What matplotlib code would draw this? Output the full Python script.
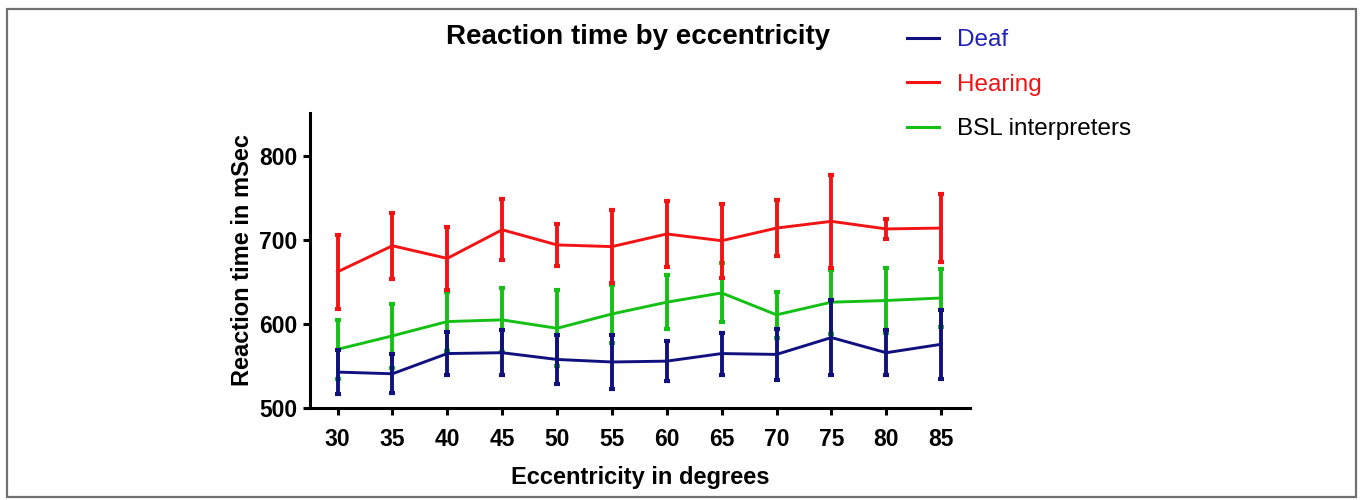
import matplotlib
matplotlib.use("Agg")
import matplotlib.pyplot as plt
from matplotlib.patches import Rectangle
from matplotlib.lines import Line2D

plt.rcParams['font.family'] = ['Liberation Sans', 'DejaVu Sans']

# Eccentricity (degrees)
eccentricity = [30, 35, 40, 45, 50, 55, 60, 65, 70, 75, 80, 85]

# Mean reaction times (ms) and error bar half-widths
deaf_mean = [543, 541, 565, 566, 558, 555, 556, 565, 564, 584, 566, 576]
deaf_err = [26, 23, 26, 27, 29, 32, 24, 25, 30, 45, 27, 41]

hearing_mean = [662, 693, 678, 712, 694, 692, 707, 699, 714, 722, 713, 714]
hearing_err = [44, 39, 37, 36, 25, 43, 39, 44, 33, 55, 12, 40]

bsl_mean = [570, 586, 603, 605, 595, 612, 626, 637, 611, 626, 628, 631]
bsl_err = [35, 38, 35, 38, 45, 35, 32, 35, 27, 38, 39, 35]

c_deaf = "#10107f"
c_hearing = "#f21414"
c_bsl = "#14c014"


def main():
    fig = plt.figure(figsize=(13.6, 5), dpi=100)
    ax = fig.add_axes([0.228, 0.1834, 0.485, 0.5912])

    style = dict(linewidth=2.1, elinewidth=2.8, capsize=2.2, capthick=3.0)
    ax.errorbar(eccentricity, bsl_mean, yerr=bsl_err, color=c_bsl, zorder=2, **style)
    ax.errorbar(eccentricity, hearing_mean, yerr=hearing_err, color=c_hearing, zorder=3, **style)
    ax.errorbar(eccentricity, deaf_mean, yerr=deaf_err, color=c_deaf, zorder=4, **style)

    ax.set_xlim(27.5, 87.6)
    ax.set_ylim(500, 851)
    ax.set_xticks(eccentricity)
    ax.set_yticks([500, 600, 700, 800])

    for side in ["top", "right"]:
        ax.spines[side].set_visible(False)
    for side in ["left", "bottom"]:
        ax.spines[side].set_linewidth(2.2)
    ax.tick_params(width=2.2, length=5, labelsize=16.5)
    ax.tick_params(axis="x", pad=9)
    ax.tick_params(axis="y", pad=4)
    for lab in ax.get_xticklabels() + ax.get_yticklabels():
        lab.set_fontweight("bold")

    ax.set_xlabel("Eccentricity in degrees", fontsize=17, fontweight="bold", labelpad=11)
    ax.set_ylabel("Reaction time in mSec", fontsize=17, fontweight="bold", labelpad=4)
    fig.text(0.469, 0.926, "Reaction time by eccentricity", fontsize=20, fontweight="bold",
             ha="center", va="center")

    # legend
    handles = [Line2D([], [], color=c_deaf, lw=2.2),
               Line2D([], [], color=c_hearing, lw=2.2),
               Line2D([], [], color=c_bsl, lw=2.2)]
    fig.legend(handles, ["Deaf", "Hearing", "BSL interpreters"],
               loc="upper left", bbox_to_anchor=(0.651, 0.985), frameon=False,
               fontsize=17.5, handlelength=1.3, handletextpad=0.75, labelspacing=0.92,
               labelcolor=["#2020b8", "#f21414", "black"])

    # figure border
    fig.patches.append(Rectangle((0.005, 0.006), 0.992, 0.976, transform=fig.transFigure,
                                 fill=False, edgecolor="#707070", linewidth=1.6))

    fig.savefig("out.png", dpi=100)


if __name__ == '__main__':
    main()
